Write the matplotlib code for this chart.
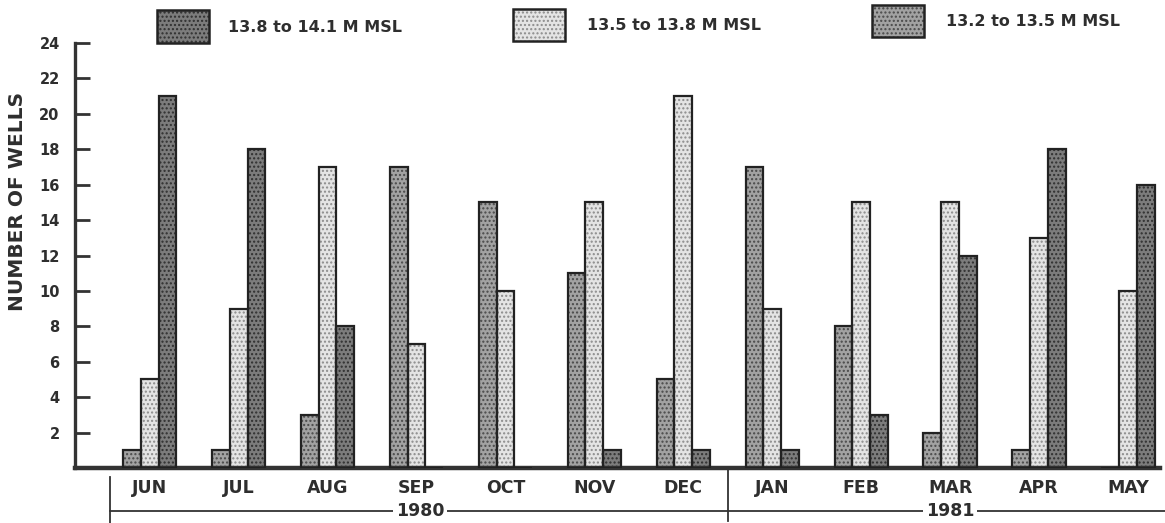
import matplotlib
matplotlib.use("Agg")
import matplotlib.pyplot as plt
from matplotlib.patches import Rectangle
import numpy as np

months = ["JUN", "JUL", "AUG", "SEP", "OCT", "NOV", "DEC",
          "JAN", "FEB", "MAR", "APR", "MAY"]
s_132_135 = [1, 1, 3, 17, 15, 11, 5, 17, 8, 2, 1, 0]
s_135_138 = [5, 9, 17, 7, 10, 15, 21, 9, 15, 15, 13, 10]
s_138_141 = [21, 18, 8, 0, 0, 1, 1, 1, 3, 12, 18, 16]
series_labels = ["13.8 to 14.1 M MSL", "13.5 to 13.8 M MSL", "13.2 to 13.5 M MSL"]
yticks = list(range(2, 25, 2))
years = ["1980", "1981"]

plt.rcParams['font.family'] = ['DejaVu Sans']
plt.rcParams['hatch.linewidth'] = 1.0

W, H = 1165, 523
fig = plt.figure(figsize=(W / 100, H / 100), dpi=100)

def fx(px):
    return px / W

def fy(py):
    return 1 - py / H

ax = fig.add_axes([fx(75), fy(468), fx(1160) - fx(75), fy(43) - fy(468)])

styles = {
    "med": dict(fc="#a2a2a2", hc="#4a4a4a"),
    "light": dict(fc="#e4e4e4", hc="#8c8c8c"),
    "dark": dict(fc="#7c7c7c", hc="#303030"),
}

x = np.arange(len(months))
bw = 0.2
for off, vals, key in [(-bw, s_132_135, "med"), (0, s_135_138, "light"), (bw, s_138_141, "dark")]:
    st = styles[key]
    ax.bar(x + off, vals, width=bw, color=st["fc"], edgecolor=st["hc"],
           hatch="....", linewidth=0, zorder=2)
    ax.bar(x + off, vals, width=bw, fill=False, edgecolor="#222222",
           linewidth=1.6, zorder=3)

ax.set_xlim(-0.84, 11.36)
ax.set_ylim(0, 24)
for sp in ["top", "right"]:
    ax.spines[sp].set_visible(False)
ax.spines["left"].set_linewidth(2.4)
ax.spines["bottom"].set_linewidth(3.2)
ax.spines["left"].set_color("#333333")
ax.spines["bottom"].set_color("#333333")

tc = "#2e2e2e"
ax.set_yticks(yticks)
ax.set_yticklabels([str(v) for v in yticks], fontsize=10.5, fontweight="bold", color=tc)
ax.tick_params(axis="y", direction="in", length=11, width=2, color="#333333", pad=11)
ax.set_xticks(x)
ax.set_xticklabels(months, fontsize=12.5, fontweight="bold", color=tc)
ax.tick_params(axis="x", length=0, pad=8)

fig.text(fx(18), fy(201), "NUMBER OF WELLS", rotation=90, ha="center", va="center",
         fontsize=14.5, fontweight="bold", color=tc)

# year bracket below the axis
trans = ax.get_xaxis_transform()

def ay(py):
    return (468 - py) / (468 - 43)

lc = "#333333"
ax.plot([-0.45, 11.45], [ay(511), ay(511)], transform=trans, color=lc, lw=1.3, clip_on=False)
ax.plot([-0.45, -0.45], [ay(477), ay(523)], transform=trans, color=lc, lw=1.3, clip_on=False)
ax.plot([6.5, 6.5], [ay(470), ay(521)], transform=trans, color=lc, lw=1.3, clip_on=False)
for xc, yr in [(3.04, years[0]), (9.0, years[1])]:
    ax.text(xc, ay(511), yr, transform=trans, ha="center", va="center",
            fontsize=12.5, fontweight="bold", color=tc,
            bbox=dict(facecolor="white", edgecolor="none", pad=2))

# legend at top
leg = [
    (157, 10, 52, 33, 228, 27, "dark"),
    (513, 9, 52, 32, 587, 25, "light"),
    (872, 5, 52, 32, 946, 21, "med"),
]
for (px, py, pw, ph, tx, ty, key), lab in zip(leg, series_labels):
    st = styles[key]
    r1 = Rectangle((fx(px), fy(py + ph)), pw / W, ph / H, transform=fig.transFigure,
                   facecolor=st["fc"], edgecolor=st["hc"], hatch="....", linewidth=0)
    r2 = Rectangle((fx(px), fy(py + ph)), pw / W, ph / H, transform=fig.transFigure,
                   fill=False, edgecolor="#222222", linewidth=1.8)
    fig.add_artist(r1)
    fig.add_artist(r2)
    fig.text(fx(tx), fy(ty), lab, ha="left", va="center", fontsize=11.5,
             fontweight="bold", color=tc)

fig.savefig("out.png", dpi=100)
